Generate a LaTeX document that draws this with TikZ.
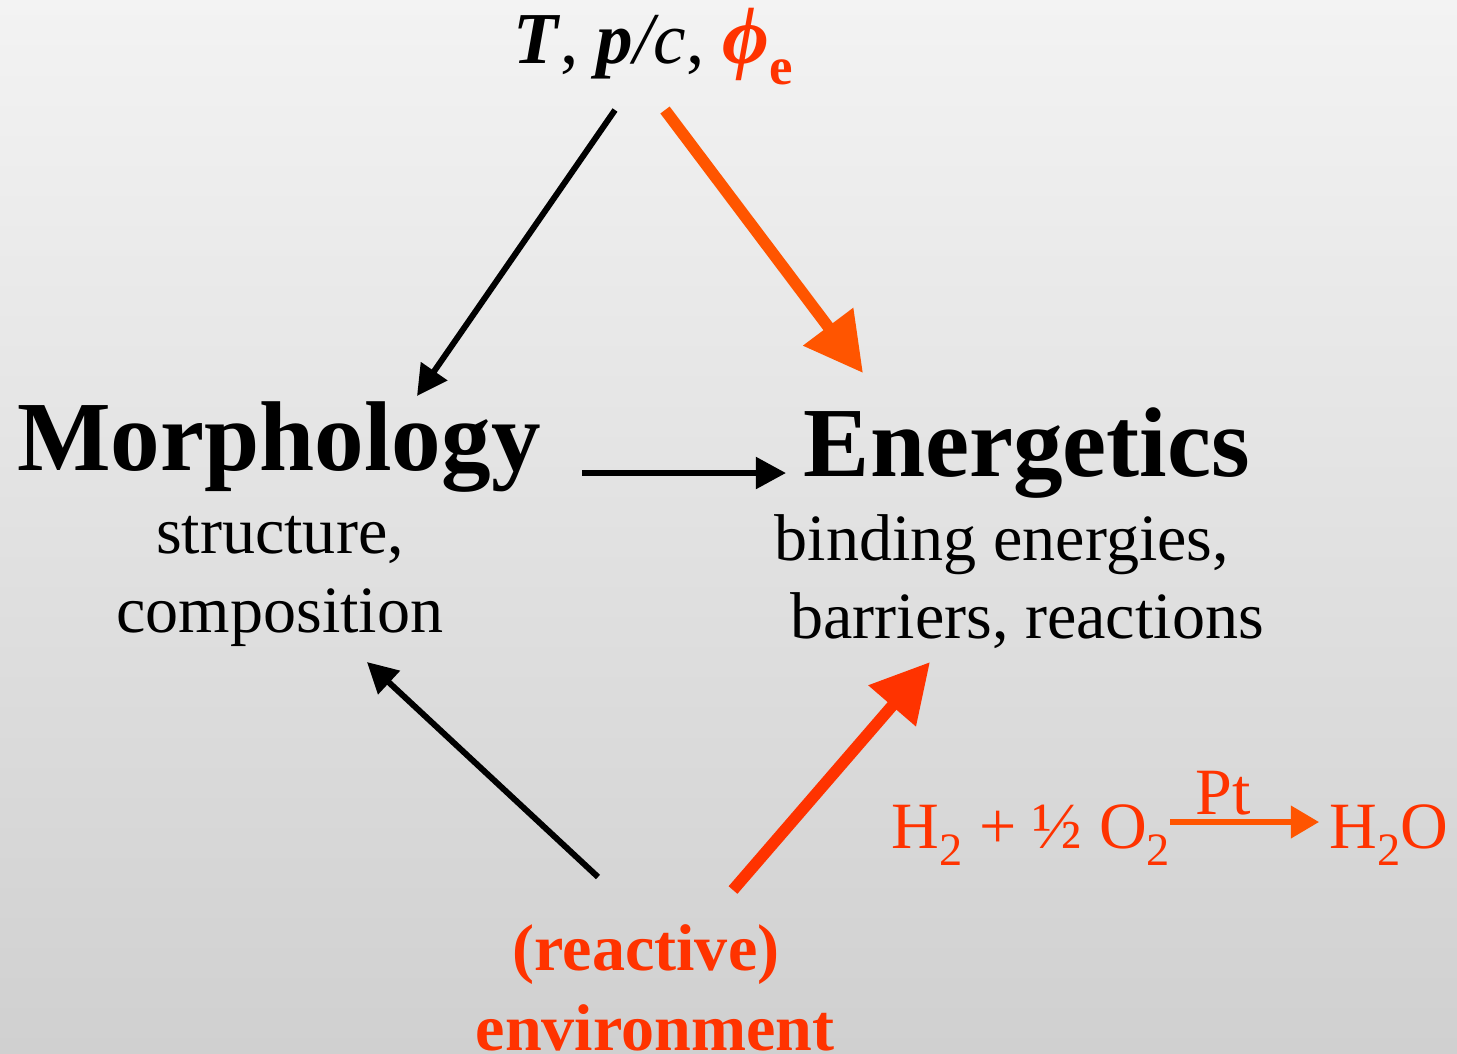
\documentclass[tikz,border=0pt]{standalone}
\usepackage{fontspec}
\setmainfont{Liberation Serif}
\usetikzlibrary{arrows.meta}
\definecolor{redA}{HTML}{FF3300}
\definecolor{orangeA}{HTML}{FF5500}
\definecolor{bgtop}{HTML}{F3F3F3}
\definecolor{bgbot}{HTML}{D0D0D0}
\newcommand{\chemsubx}[1]{\raisebox{-0.27em}{\fontsize{13.2}{15}\selectfont #1}}
\begin{document}
\begin{tikzpicture}[x=0.01cm,y=-0.01cm,
  bigtxt/.style={font=\fontsize{28.2}{32}\selectfont\bfseries, anchor=base, inner sep=0pt},
  smalltxt/.style={font=\fontsize{18.8}{22}\selectfont, anchor=base, inner sep=0pt},
  thinarr/.style={draw=black, line width=1.7pt, -{Triangle[length=8.6pt,width=8.8pt]}},
  thickarr/.style={line width=3.3pt, -{Triangle[length=16.5pt,width=17pt]}},
  reactarr/.style={draw=orangeA, line width=1.5pt, -{Triangle[length=8pt,width=9pt]}}]
\shade[top color=bgtop,bottom color=bgbot] (0,0) rectangle (1457,1053);
\useasboundingbox (0,0) rectangle (1457,1053);

\node[smalltxt, font=\fontsize{20.8}{24}\selectfont] (top) at (653,63)
  {\textbf{\textit{T}}, \textbf{\textit{p}}\textit{/c}, \textcolor{redA}{\textbf{\textit{\fontsize{23}{26}\selectfont ϕ}}\raisebox{-0.3em}{\fontsize{15}{17}\selectfont\textbf{e}}}};

\node[bigtxt] (morph) at (279,470) {Morphology};
\node[smalltxt] (morph1) at (280,553) {structure,};
\node[smalltxt] (morph2) at (280,632) {composition};

\node[bigtxt] (ener) at (1027,476) {Energetics};
\node[smalltxt] (ener1) at (1002,560) {binding energies,};
\node[smalltxt] (ener2) at (1027,638) {barriers, reactions};

\node[smalltxt, font=\fontsize{18.8}{22}\selectfont\bfseries, text=redA] (env1) at (646,970) {(reactive)};
\node[smalltxt, font=\fontsize{18.8}{22}\selectfont\bfseries, text=redA] (env2) at (655,1050) {environment};

\node[smalltxt, anchor=base west, text=redA] (react) at (891,848) {H\chemsubx{2} + ½ O\chemsubx{2}};
\node[smalltxt, text=redA] (pt) at (1223,814) {Pt};
\node[smalltxt, anchor=base west, text=redA] (prod) at (1329,848) {H\chemsubx{2}O};

\coordinate (a1s) at (615,110); \coordinate (a1e) at (417,396);
\coordinate (a2s) at (665,110); \coordinate (a2e) at (863,373);
\coordinate (a3s) at (582,473); \coordinate (a3e) at (786,473);
\coordinate (a4s) at (598,877); \coordinate (a4e) at (367,662);
\coordinate (a5s) at (733,890); \coordinate (a5e) at (930,662);
\coordinate (r1s) at (1170,822); \coordinate (r1e) at (1319,822);

\draw[thinarr] (a1s) -- (a1e);
\draw[thickarr, draw=orangeA, fill=orangeA] (a2s) -- (a2e);
\draw[thinarr] (a3s) -- (a3e);
\draw[thinarr] (a4s) -- (a4e);
\draw[thickarr, draw=redA, fill=redA] (a5s) -- (a5e);
\draw[reactarr] (r1s) -- (r1e);
\end{tikzpicture}
\end{document}
